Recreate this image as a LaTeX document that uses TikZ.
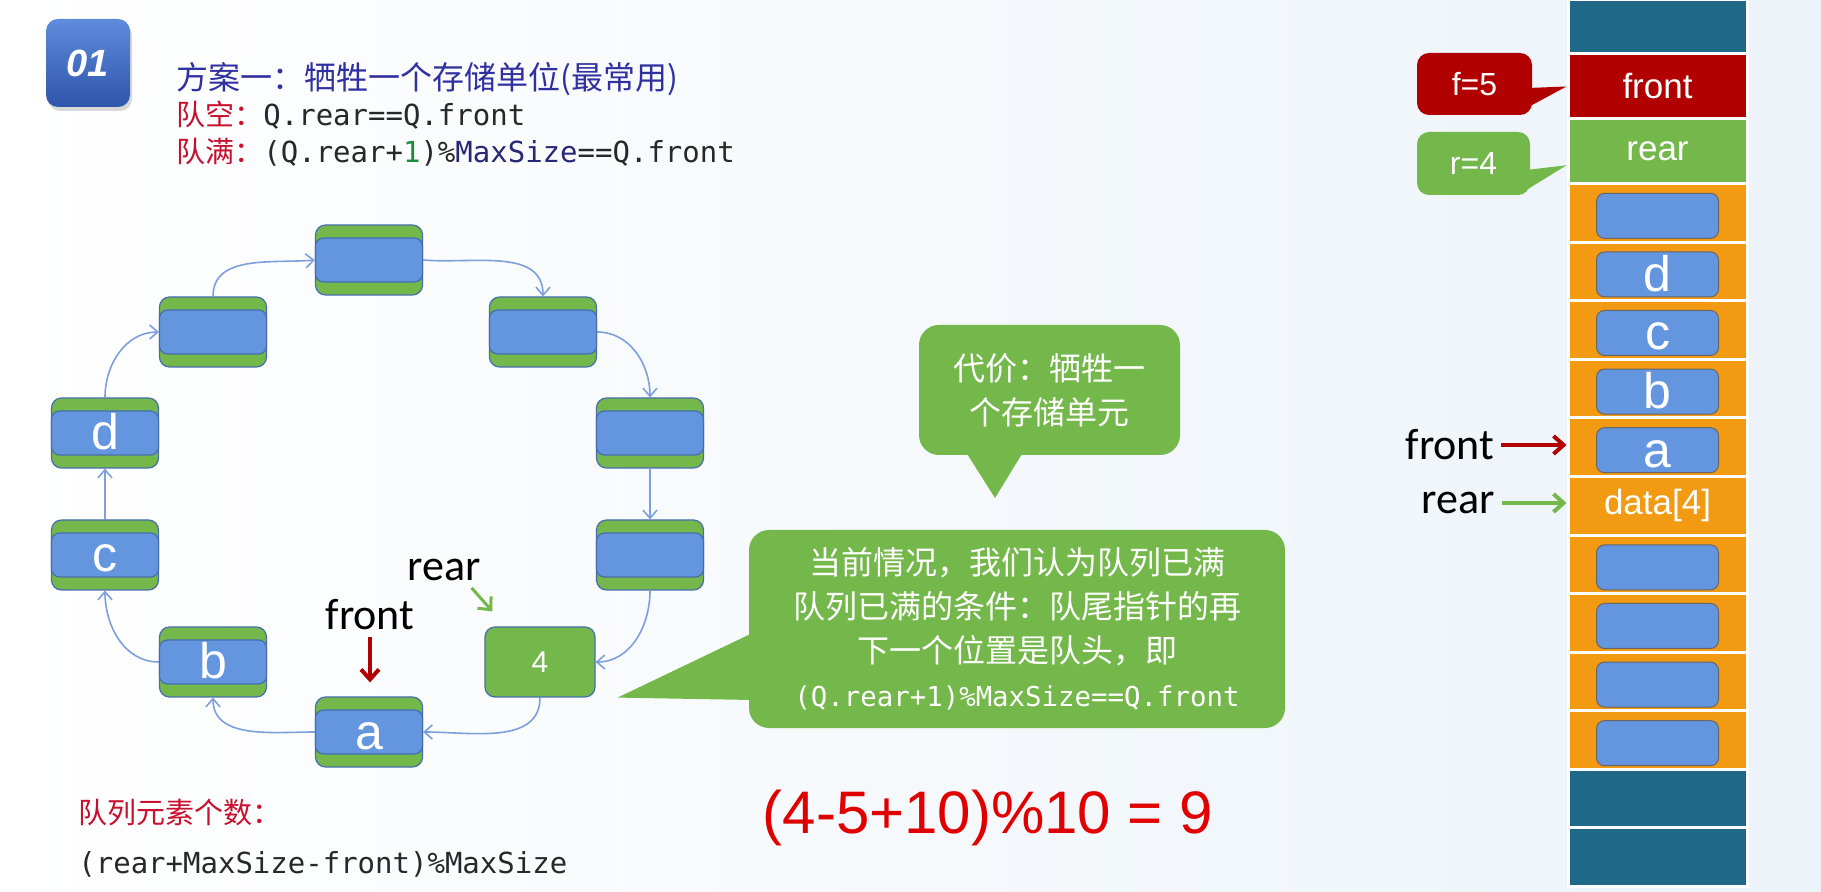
\documentclass[tikz,border=0pt]{standalone}
\usepackage{fontspec}
\setmainfont{Liberation Sans}
\newfontfamily\cjk{Noto Sans CJK SC}
\newfontfamily\mono{DejaVu Sans Mono}
\newfontfamily\cali{Carlito}
\usetikzlibrary{arrows.meta,shadows}

\definecolor{slotgreen}{RGB}{116,183,74}
\definecolor{slotblue}{RGB}{100,150,224}
\definecolor{slotline}{RGB}{70,110,175}
\definecolor{ringline}{RGB}{125,160,220}
\definecolor{cellorange}{RGB}{242,154,18}
\definecolor{cellteal}{RGB}{31,104,136}
\definecolor{cellred}{RGB}{176,0,0}
\definecolor{titleblue}{RGB}{48,48,160}
\definecolor{labelred}{RGB}{200,16,46}
\definecolor{codegray}{RGB}{40,40,40}
\definecolor{codeblue}{RGB}{40,40,120}
\definecolor{codegreen}{RGB}{30,140,60}
\definecolor{inkred}{RGB}{225,0,0}
\definecolor{bgblue}{RGB}{236,243,249}
\definecolor{badgetop}{RGB}{95,140,220}
\definecolor{badgebot}{RGB}{45,85,170}

\begin{document}
\begin{tikzpicture}[x=0.5pt, y=-0.5pt,
    txt/.style={anchor=west, inner sep=0pt},
    badge/.style={
        rounded corners=6pt,
        minimum width=42pt,
        minimum height=44pt,
        top color=badgetop,
        bottom color=badgebot,
        text=white,
        font=\bfseries\itshape\fontsize{19}{19}\selectfont,
        drop shadow={opacity=0.3, shadow xshift=1pt, shadow yshift=-2pt}
    },
    slot/.style={
        draw=slotline,
        line width=0.6pt,
        fill=slotgreen,
        rounded corners=5pt,
        minimum width=53.5pt,
        minimum height=35pt,
        inner sep=0pt,
        text=white
    },
    slotin/.style={
        slot,
        fill=slotblue,
        rounded corners=4pt,
        minimum height=22pt,
        text height=17pt,
        text depth=0pt,
        font=\fontsize{25}{25}\selectfont
    },
    ring/.style={
        draw=ringline,
        line width=0.8pt,
        -{Straight Barb[length=4pt,width=7pt]}
    },
    cell/.style={
        fill=cellorange,
        draw=white,
        line width=1.5pt,
        minimum width=89.5pt,
        minimum height=29.3pt,
        inner sep=0pt,
        text=white,
        font=\fontsize{17.5}{17.5}\selectfont
    },
    cellin/.style={
        slotin,
        draw=black!60,
        line width=0.5pt,
        minimum width=61pt,
        minimum height=22.5pt
    },
    bubble/.style={
        fill=slotgreen,
        rounded corners=10pt,
        inner sep=0pt,
        text=white,
        align=center,
        font=\cjk\fontsize{16}{22}\selectfont
    },
    pointer/.style={
        line width=2pt,
        -{Straight Barb[length=5pt,width=9pt]}
    },
    lbl/.style={font=\cali\fontsize{22}{22}\selectfont}
]

\useasboundingbox (0,0) rectangle (1821,892);
\fill[left color=white, right color=bgblue] (0,0) rectangle (1821,892);

% --- Heading ---
\node[badge] (num) at (88,63) {01};
\node[txt, font=\cjk\fontsize{16}{16}\selectfont, text=titleblue] (title) at (176,79)
    {方案一：牺牲一个存储单位(最常用)};
\node[txt, font=\mono\fontsize{14.5}{14.5}\selectfont, text=codegray] (empty) at (176,115)
    {{\cjk\color{labelred}队空：}Q.rear==Q.front};
\node[txt, font=\mono\fontsize{14.5}{14.5}\selectfont, text=codegray] (fullq) at (176,152)
    {{\cjk\color{labelred}队满：}(Q.rear+{\color{codegreen}1})\%{\color{codeblue}MaxSize}==Q.front};

% --- Ring ---
\foreach \n/\x/\y/\t in {0/369/260/{}, 1/543/332/{}, 2/650/433/{}, 3/650/555/{},
                         5/369/732/a, 6/213/662/b, 7/105/555/c, 8/105/433/d, 9/213/332/{}} {
    \node[slot] (q\n) at (\x,\y) {};
    \node[slotin] (qin\n) at (q\n) {\t};
}
\node[slot, minimum width=55pt, font=\fontsize{15}{15}\selectfont] (q4) at (540,662) {4};

\draw[ring] (q9.north) to[out=90,in=185] (q0.west);
\draw[ring] (q0.east) to[out=-5,in=90] (q1.north);
\draw[ring] (q1.east) to[out=0,in=90] (q2.north);
\draw[ring] (q2.south) -- (q3.north);
\draw[ring] (q3.south) to[out=-90,in=0] (q4.east);
\draw[ring] (q4.south) to[out=-90,in=0] (q5.east);
\draw[ring] (q5.west) to[out=180,in=-90] (q6.south);
\draw[ring] (q6.west) to[out=180,in=-90] (q7.south);
\draw[ring] (q7.north) -- (q8.south);
\draw[ring] (q8.north) to[out=90,in=180] (q9.west);

\node[lbl] (qfront) at (370,615) {front};
\node[lbl] (qrear) at (444,570) {rear};
\draw[pointer, cellred, shorten >=7pt] (qfront.south) -- (qfront.south |- q5.north);
\draw[pointer, slotgreen, line width=1.5pt] ([xshift=-8pt]qrear.south east)
    -- ([xshift=4pt,yshift=7.5pt]q4.north west);

% --- Count ---
\node[txt, font=\cjk\fontsize{14.5}{14.5}\selectfont, text=labelred] (cnt) at (78,813) {队列元素个数：};
\node[txt, font=\mono\fontsize{14.5}{14.5}\selectfont, text=codegray] (cntf) at (78,864)
    {(rear+MaxSize-front)\%MaxSize};
\node[font=\fontsize{30}{30}\selectfont, text=inkred] (calc) at (988,818) {(4-5+10)\%10 = 9};

% --- Notes ---
\node[bubble, minimum width=130.5pt, minimum height=65pt] (cost) at (1049.5,390)
    {代价：牺牲一\\个存储单元};
\coordinate (costtip) at (995,498);
\fill[slotgreen] ([xshift=-42pt,yshift=2pt]cost.south) -- (costtip)
    -- ([xshift=-13pt,yshift=2pt]cost.south) -- cycle;

\node[bubble, minimum width=268pt, minimum height=99pt] (full) at (1017,629)
    {当前情况，我们认为队列已满\\队列已满的条件：队尾指针的再\\下一个位置是队头，即\\
     {\mono\fontsize{13.7}{22}\selectfont (Q.rear+1)\%MaxSize==Q.front}};
\coordinate (fulltip) at ([xshift=11pt]q4.south east);
\fill[slotgreen] ([xshift=2pt,yshift=-2pt]full.west) -- (fulltip)
    -- ([xshift=2pt,yshift=-35.5pt]full.west) -- cycle;

% --- Array ---
\node[cell, fill=cellteal, minimum height=27pt] (top) at (1657.5,27) {};
\node[cell, fill=cellred, minimum height=32.5pt] (fcell) at (1657.5,86.5) {front};
\node[cell, fill=slotgreen, minimum height=32.25pt] (rcell) at (1657.5,151.25) {rear};
\foreach \i in {0,...,9}
    \node[cell] (c\i) at (1657.5,{212.8+58.6*\i}) {};
\node[cell, fill=cellteal] (b0) at (1657.5,798.75) {};
\node[cell, fill=cellteal] (b1) at (1657.5,857.25) {};

\foreach \i/\t in {0/{},1/d,2/c,3/b,4/a,6/{},7/{},8/{},9/{}}
    \node[cellin] (cin\i) at ([yshift=-1.5pt]c\i.center) {\t};
\node[text=white, font=\fontsize{17.5}{17.5}\selectfont] (data) at (c5) {data[4]};

\node[bubble, fill=cellred, rounded corners=6pt, minimum width=57.5pt, minimum height=31pt,
      font=\fontsize{16}{16}\selectfont] (fval) at (1474.5,84) {f=5};
\fill[cellred] ([xshift=-2pt,yshift=-2pt]fval.east) -- (fcell.west)
    -- ([xshift=-2pt,yshift=-11.5pt]fval.east) -- cycle;
\node[bubble, rounded corners=6pt, minimum width=56.5pt, minimum height=31.5pt,
      font=\fontsize{16}{16}\selectfont] (rval) at (1473.5,163.5) {r=4};
\fill[slotgreen] ([xshift=-2pt,yshift=-3.25pt]rval.east) -- ([yshift=-7pt]rcell.west)
    -- ([xshift=-2pt,yshift=-13.25pt]rval.east) -- cycle;

\node[lbl] (lfront) at (1450,445) {front};
\node[lbl] (lrear) at (1458,503) {rear};
\draw[pointer, cellred] (lfront.east) -- (lfront.east -| c4.west);
\draw[pointer, slotgreen] (lrear.east) -- (lrear.east -| c5.west);

\end{tikzpicture}
\end{document}
